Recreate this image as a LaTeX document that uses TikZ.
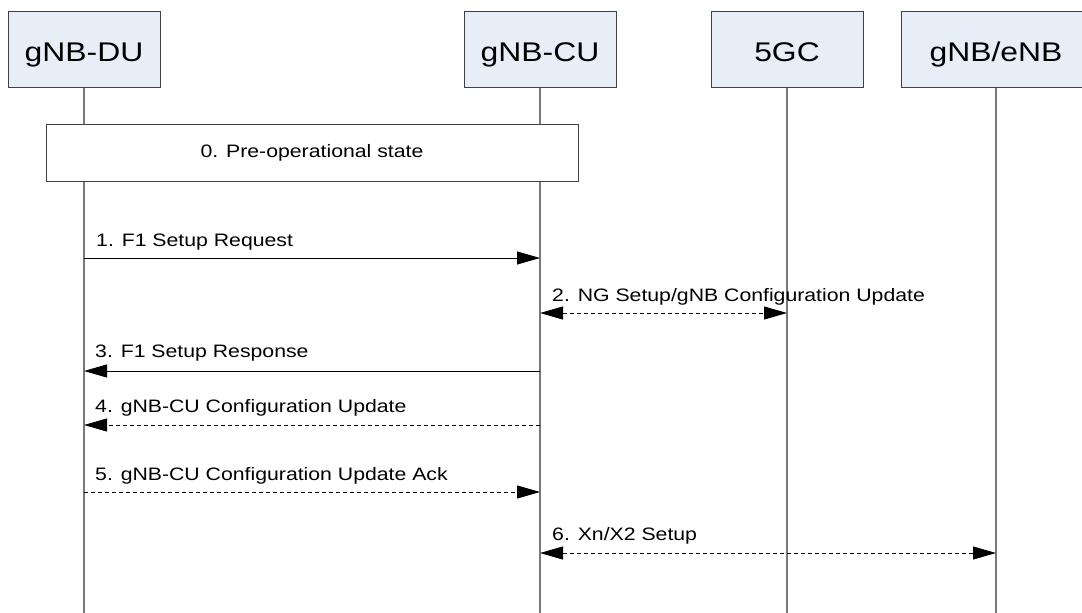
\documentclass[tikz,border=0pt]{standalone}
\usepackage{fontspec}
\setmainfont{Liberation Sans}
\usetikzlibrary{arrows.meta}
\definecolor{boxfill}{RGB}{232,238,248}
\definecolor{boxline}{RGB}{64,64,64}
\definecolor{lifegray}{RGB}{120,120,120}
\newcommand{\sx}[1]{\scalebox{1.18}[1]{#1}}
\tikzset{
  hdr/.style={draw=boxline, line width=1pt, fill=boxfill, minimum width=152pt, minimum height=76pt, inner sep=0pt},
  hdrtext/.style={anchor=base, inner sep=0pt, font=\fontsize{27}{30}\selectfont},
  prebox/.style={draw=boxline, line width=1pt, fill=white, minimum width=532pt, minimum height=57pt, inner sep=0pt, font=\fontsize{18}{20}\selectfont},
  life/.style={draw=lifegray, line width=1.3pt},
  msg/.style={draw=black, line width=0.9pt},
  dsh/.style={dash pattern=on 4pt off 3pt},
  tip/.style={-{Triangle[length=23pt,width=13pt]}},
  tips/.style={{Triangle[length=23pt,width=13pt]}-{Triangle[length=23pt,width=13pt]}},
  lbl/.style={anchor=base west, inner sep=0pt, font=\fontsize{18}{20}\selectfont}
}
\begin{document}
\begin{tikzpicture}[x=1pt,y=-1pt]
\useasboundingbox (0,0) rectangle (1082,613);
% header boxes
\node[hdr] (du) at (84,49) {};
\node[hdr] (cu) at (540,49) {};
\node[hdr] (gc) at (787,49) {};
\node[hdr, minimum width=190pt] (gn) at (996,49) {};
\node[hdrtext] (dut) at (84,61) {\sx{gNB-DU}};
\node[hdrtext] (cut) at (540,61) {\sx{gNB-CU}};
\node[hdrtext] (gct) at (787,61) {\sx{5GC}};
\node[hdrtext] (gnt) at (996,61) {\sx{gNB/eNB}};
% lifeline ends
\coordinate (bot) at (0,614);
\draw[life] (du.south) -- (du.south |- bot);
\draw[life] (cu.south) -- (cu.south |- bot);
\draw[life] (gc.south) -- (gc.south |- bot);
\draw[life] (gn.south) -- (gn.south |- bot);
% pre-operational state
\node[prebox] (pre) at (312,152.5) {\sx{0. Pre-operational state}};
% message rows
\coordinate (y1) at (0,258);
\coordinate (y2) at (0,313);
\coordinate (y3) at (0,371);
\coordinate (y4) at (0,425);
\coordinate (y5) at (0,492);
\coordinate (y6) at (0,553);
\draw[msg,tip] (du |- y1) -- (cu |- y1);
\node[lbl] (l1) at (96,246) {\sx{1. F1 Setup Request}};
\draw[msg,dsh,tips] (cu |- y2) -- (gc |- y2);
\node[lbl] (l2) at (552,301) {\sx{2. NG Setup/gNB Configuration Update}};
\draw[msg,tip] (cu |- y3) -- (du |- y3);
\node[lbl] (l3) at (95,357) {\sx{3. F1 Setup Response}};
\draw[msg,dsh,tip] (cu |- y4) -- (du |- y4);
\node[lbl] (l4) at (95,412) {\sx{4. gNB-CU Configuration Update}};
\draw[msg,dsh,tip] (du |- y5) -- (cu |- y5);
\node[lbl] (l5) at (95,480) {\sx{5. gNB-CU Configuration Update Ack}};
\draw[msg,dsh,tips] (cu |- y6) -- (gn |- y6);
\node[lbl] (l6) at (552,540) {\sx{6. Xn/X2 Setup}};
\end{tikzpicture}
\end{document}
